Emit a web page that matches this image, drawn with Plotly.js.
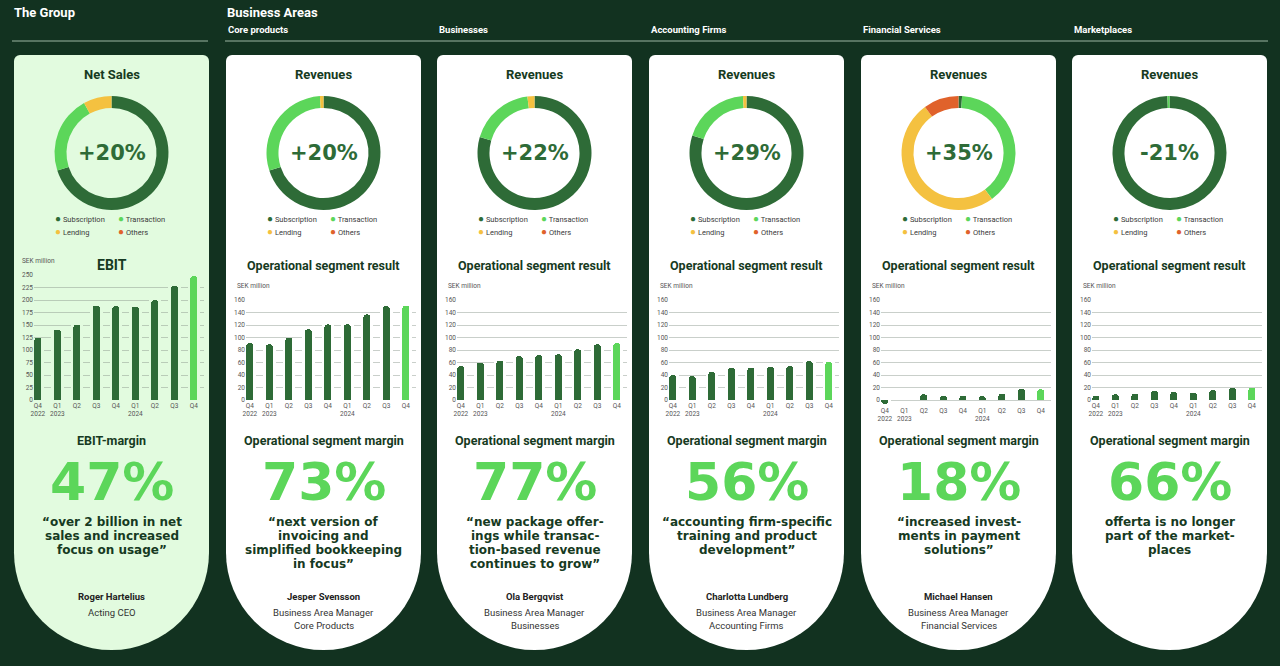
<!DOCTYPE html>
<html>
<head>
<meta charset="utf-8">
<script src="https://cdn.plot.ly/plotly-3.0.1.min.js"></script>
<style>
html, body { margin: 0; padding: 0; background: #123220; }
#chart { width: 1280px; height: 666px; }
</style>
</head>
<body>
<div id="chart"></div>
<script>
// quarter labels shared by every bar chart
var quarters = ['Q4<br>2022', 'Q1<br>2023', 'Q2', 'Q3', 'Q4', 'Q1<br>2024', 'Q2', 'Q3', 'Q4'];
var mixLabels = ['Subscription', 'Transaction', 'Lending', 'Others'];

// SEK million: EBIT for the group, operational segment result for the business areas
var groupEbit = [125, 141, 151, 189, 188, 187, 200, 228, 248];
var coreResult = [91, 89, 100, 113, 121, 121, 137, 150, 151];
var businessesResult = [54, 60, 63, 70, 72, 73, 81, 89, 91];
var accountingResult = [40, 38, 45, 51, 52, 53, 54, 62, 61];
var financialResult = [-6, 0, 9, 7, 7, 6, 10, 18, 17];
var marketplacesResult = [7, 9, 10, 15, 13, 12, 16, 19, 20];

// revenue mix, share in % (Subscription, Transaction, Lending, Others)
var groupMix = [70, 22, 8, 0];
var coreMix = [70, 29, 1, 0];
var businessesMix = [79.5, 18.5, 2, 0];
var accountingMix = [80, 19, 1, 0];
var financialMix = [1, 39, 50, 10];
var marketplacesMix = [99.4, 0.6, 0, 0];

var growth = ['+20%', '+20%', '+22%', '+29%', '+35%', '-21%'];
var margins = ['47%', '73%', '77%', '56%', '18%', '66%'];

var sections = ['', 'Core products', 'Businesses', 'Accounting Firms', 'Financial Services', 'Marketplaces'];
var donutTitles = ['Net Sales', 'Revenues', 'Revenues', 'Revenues', 'Revenues', 'Revenues'];
var chartTitles = ['EBIT', 'Operational segment result', 'Operational segment result', 'Operational segment result', 'Operational segment result', 'Operational segment result'];
var marginTitles = ['EBIT-margin', 'Operational segment margin', 'Operational segment margin', 'Operational segment margin', 'Operational segment margin', 'Operational segment margin'];
var quotes = [
  '\u201cover 2 billion in net<br>sales and increased<br>focus on usage\u201d',
  '\u201cnext version of<br>invoicing and<br>simplified bookkeeping<br>in focus\u201d',
  '\u201cnew package offer-<br>ings while transac-<br>tion-based revenue<br>continues to grow\u201d',
  '\u201caccounting firm-specific<br>training and product<br>development\u201d',
  '\u201cincreased invest-<br>ments in payment<br>solutions\u201d',
  'offerta is no longer<br>part of the market-<br>places'
];
var names = ['Roger Hartelius', 'Jesper Svensson', 'Ola Bergqvist', 'Charlotta Lundberg', 'Michael Hansen', ''];
var roles = ['Acting CEO', 'Business Area Manager<br>Core Products', 'Business Area Manager<br>Businesses',
  'Business Area Manager<br>Accounting Firms', 'Business Area Manager<br>Financial Services', ''];

var results = [groupEbit, coreResult, businessesResult, accountingResult, financialResult, marketplacesResult];
var mixes = [groupMix, coreMix, businessesMix, accountingMix, financialMix, marketplacesMix];

var W = 1280, H = 666;
function px(x) { return x / W; }
function py(y) { return 1 - y / H; }

var pageBg = '#123220';
var dark = '#2e6b37', light = '#5cd65a', yellow = '#f4c140', orange = '#e0622b', ink = '#163a22';
var mixColors = [dark, light, yellow, orange];
var cardLeft = [14, 226, 437, 649, 861, 1072];
var cardW = 195;
var cardBg = ['#e2fbdf', '#ffffff', '#ffffff', '#ffffff', '#ffffff', '#ffffff'];
var gridColors = ['#b9ccb8', '#c9cfca', '#c9cfca', '#c9cfca', '#c9cfca', '#c9cfca'];
var sans = 'Roboto, sans-serif';
var heavy = 'DejaVu Sans, sans-serif';

function txt(x, y, text, size, color, weight, anchor, family) {
  return {
    xref: 'paper', yref: 'paper', x: px(x), y: py(y), text: text, showarrow: false,
    xanchor: anchor || 'center', yanchor: 'middle',
    font: { size: size, color: color, weight: weight || 400, family: family || sans }
  };
}

var traces = [];
var shapes = [];
var annotations = [];
var layout = {
  width: W, height: H,
  margin: { l: 0, r: 0, t: 0, b: 0 },
  paper_bgcolor: pageBg,
  plot_bgcolor: 'rgba(0,0,0,0)',
  showlegend: false,
  barmode: 'overlay',
  bargap: 0
};

// headers
annotations.push(txt(12, 13, 'The Group', 13, '#ffffff', 700, 'left'));
annotations.push(txt(225, 13, 'Business Areas', 13, '#ffffff', 700, 'left'));
shapes.push({ type: 'line', xref: 'paper', yref: 'paper', x0: px(12), x1: px(208), y0: py(41), y1: py(41), line: { color: '#9bb5a2', width: 1 } });
shapes.push({ type: 'line', xref: 'paper', yref: 'paper', x0: px(225), x1: px(1268), y0: py(41), y1: py(41), line: { color: '#9bb5a2', width: 1 } });

for (var i = 0; i < 6; i++) {
  var L = cardLeft[i], R = L + cardW, cx = L + cardW / 2, rad = cardW / 2;
  var cardBottom = 650, cr = 6;

  if (sections[i]) annotations.push(txt(L, 30, sections[i], 9.5, '#ffffff', 700, 'left'));

  // card: slightly rounded top, round bottom
  shapes.push({ type: 'rect', xref: 'paper', yref: 'paper', layer: 'below',
    x0: px(L), x1: px(R), y0: py(cardBottom - rad), y1: py(55 + cr), fillcolor: cardBg[i], line: { width: 0 } });
  shapes.push({ type: 'rect', xref: 'paper', yref: 'paper', layer: 'below',
    x0: px(L + cr), x1: px(R - cr), y0: py(55 + cr), y1: py(55), fillcolor: cardBg[i], line: { width: 0 } });
  [L, R - 2 * cr].forEach(function (x0) {
    shapes.push({ type: 'circle', xref: 'paper', yref: 'paper', layer: 'below',
      x0: px(x0), x1: px(x0 + 2 * cr), y0: py(55 + 2 * cr), y1: py(55), fillcolor: cardBg[i], line: { width: 0 } });
  });
  shapes.push({ type: 'circle', xref: 'paper', yref: 'paper', layer: 'below',
    x0: px(L), x1: px(R), y0: py(cardBottom), y1: py(cardBottom - 2 * rad), fillcolor: cardBg[i], line: { width: 0 } });

  // donut
  traces.push({
    type: 'pie', values: mixes[i], labels: mixLabels, hole: 0.79, sort: false,
    direction: 'clockwise', rotation: 0, textinfo: 'none', hoverinfo: 'skip',
    marker: { colors: mixColors, line: { width: 0 } },
    domain: { x: [px(cx - 57), px(cx + 57)], y: [py(153 + 57), py(153 - 57)] }
  });
  annotations.push(txt(cx, 75, donutTitles[i], 13, ink, 700));
  annotations.push(txt(cx, 153, growth[i], 21, dark, 700, 'center', heavy));
  for (var k = 0; k < 4; k++) {
    var lx = L + (k % 2 === 0 ? 39 : 102);
    var ly = k < 2 ? 219 : 232;
    annotations.push(txt(lx, ly, '<span style="color:' + mixColors[k] + ';font-size:10px">\u25CF</span> ' + mixLabels[k], 7.5, '#3a3a3a', 400, 'left'));
  }

  // bar chart
  var suffix = i === 0 ? '' : String(i + 1);
  var isGroup = i === 0;
  var plotTop = isGroup ? 275 : 300;
  var yRange = isGroup ? [0, 250] : (i === 4 ? [-8, 160] : [0, 160]);
  var plotBottom = i === 4 ? 405 : 400;
  var xs = quarters.map(function (q, n) { return n; });
  var barColors = results[i].map(function (v, n) { return n === results[i].length - 1 ? light : dark; });

  // halo in the card colour breaks the grid lines around each bar
  traces.push({
    type: 'bar', x: xs, y: results[i], xaxis: 'x' + suffix, yaxis: 'y' + suffix,
    width: 0.64, hoverinfo: 'skip', marker: { color: cardBg[i], line: { width: 0 } }
  });
  traces.push({
    type: 'bar', x: xs, y: results[i], xaxis: 'x' + suffix, yaxis: 'y' + suffix,
    width: 0.36, hoverinfo: 'skip',
    marker: { color: barColors, cornerradius: '50%', line: { width: 0 } }
  });

  layout['xaxis' + suffix] = {
    domain: [px(L + 20), px(L + 20 + 8.7 * 19.5)], range: [-0.2, 8.5], anchor: 'y' + suffix,
    tickvals: xs, ticktext: quarters, showgrid: false, zeroline: false, showline: false, ticks: '',
    tickfont: { size: 6.5, color: '#555555', family: sans }, fixedrange: true
  };
  layout['yaxis' + suffix] = {
    domain: [py(plotBottom), py(plotTop)], range: yRange, anchor: 'x' + suffix,
    dtick: isGroup ? 25 : 20, tick0: 0, showgrid: true, gridcolor: gridColors[i], gridwidth: 1,
    zeroline: false, showline: false, ticks: '',
    tickfont: { size: 6.5, color: '#555555', family: sans }, fixedrange: true
  };

  annotations.push(txt(L + (isGroup ? 6 : 9), isGroup ? 261 : 286, 'SEK million', 6.5, '#555555', 400, 'left'));
  annotations.push(txt(cx, 265, chartTitles[i], isGroup ? 14 : 12.5, ink, 700));

  // margin, quote and manager
  annotations.push(txt(cx, 440, marginTitles[i], 12.5, ink, 700));
  annotations.push(txt(cx, 482, margins[i], 52, light, 700, 'center', heavy));
  quotes[i].split('<br>').forEach(function (line, n) {
    annotations.push(txt(cx, 522 + n * 14, line, 12, ink, 700, 'center', heavy));
  });
  if (names[i]) annotations.push(txt(cx, 596, names[i], 9.5, '#222222', 700));
  roles[i].split('<br>').forEach(function (line, n) {
    if (line) annotations.push(txt(cx, 612 + n * 13, line, 9.5, '#333333', 400));
  });
}

layout.shapes = shapes;
layout.annotations = annotations;

Plotly.newPlot('chart', traces, layout, { staticPlot: true, displayModeBar: false });
</script>
</body>
</html>
